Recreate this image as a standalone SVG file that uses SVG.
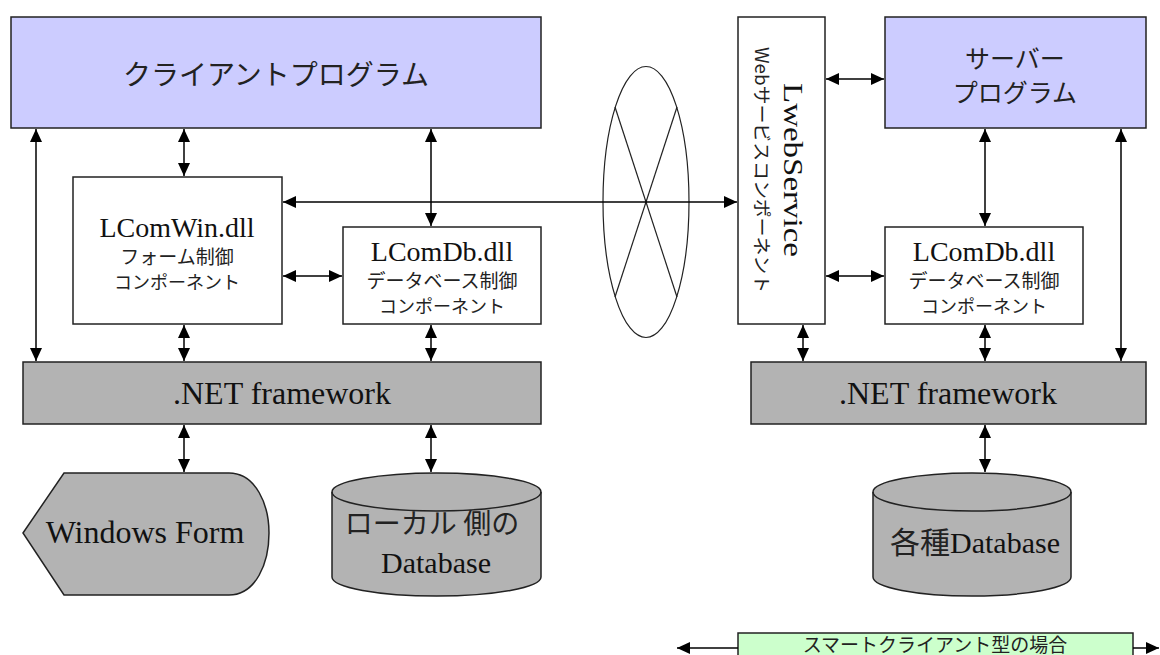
<svg xmlns="http://www.w3.org/2000/svg" width="1160" height="655" viewBox="0 0 1160 655">
<style>
.box{stroke:#222;stroke-width:1.5}
.prog{fill:#ccccff}
.wht{fill:#ffffff}
.gry{fill:#b3b3b3}
.grn{fill:#ccffcc}
.ser{font-family:"Liberation Serif","Times New Roman",serif;fill:#111}
.jp{font-family:"Noto Sans CJK JP","Noto Sans",sans-serif;fill:#222}
.con{stroke:#000;stroke-width:1.5;fill:none;marker-start:url(#ah);marker-end:url(#ah)}
.one{stroke:#000;stroke-width:1.5;fill:none;marker-end:url(#ah)}
</style>
<defs>
<marker id="ah" markerUnits="userSpaceOnUse" markerWidth="14" markerHeight="13" refX="13" refY="6" orient="auto-start-reverse">
<path d="M0,0 L13,6 L0,12 z" fill="#000"/>
</marker>
</defs>
<rect width="1160" height="655" fill="#ffffff"/>

<g id="client">
<rect class="box prog" x="11" y="17" width="530" height="111"/>
<text class="jp" x="276" y="85" font-size="28" text-anchor="middle">クライアントプログラム</text>
</g>

<g id="server">
<rect class="box prog" x="885" y="17" width="261" height="111"/>
<text class="jp" x="1015" y="68" font-size="25" text-anchor="middle">サーバー</text>
<text class="jp" x="1015" y="102" font-size="25" text-anchor="middle">プログラム</text>
</g>

<g id="lcomwin">
<rect class="box wht" x="73" y="177" width="209" height="147"/>
<text class="ser" x="177" y="237" font-size="28" text-anchor="middle">LComWin.dll</text>
<text class="jp" x="177" y="264" font-size="19" text-anchor="middle">フォーム制御</text>
<text class="jp" x="177" y="289" font-size="18" text-anchor="middle">コンポーネント</text>
</g>

<g id="lcomdb-left">
<rect class="box wht" x="343" y="227" width="198" height="97"/>
<text class="ser" x="442" y="261" font-size="28" text-anchor="middle">LComDb.dll</text>
<text class="jp" x="442" y="288" font-size="19" text-anchor="middle">データベース制御</text>
<text class="jp" x="442" y="313" font-size="18" text-anchor="middle">コンポーネント</text>
</g>

<g id="lwebservice">
<rect class="box wht" x="738" y="17" width="87" height="307"/>
<text class="ser" transform="translate(784,83) rotate(90)" x="0" y="0" font-size="28" textLength="174" lengthAdjust="spacingAndGlyphs">LwebService</text>
<text class="jp" transform="translate(755,47) rotate(90)" x="0" y="0" font-size="18" textLength="246" lengthAdjust="spacingAndGlyphs">Webサービスコンポーネント</text>
</g>

<g id="lcomdb-right">
<rect class="box wht" x="885" y="227" width="198" height="97"/>
<text class="ser" x="984" y="261" font-size="28" text-anchor="middle">LComDb.dll</text>
<text class="jp" x="984" y="288" font-size="19" text-anchor="middle">データベース制御</text>
<text class="jp" x="984" y="313" font-size="18" text-anchor="middle">コンポーネント</text>
</g>

<g id="net-left">
<rect class="box gry" x="23" y="362" width="518" height="62"/>
<text class="ser" x="282" y="404" font-size="32" text-anchor="middle">.NET framework</text>
</g>

<g id="net-right">
<rect class="box gry" x="751" y="362" width="395" height="62"/>
<text class="ser" x="948" y="404" font-size="32" text-anchor="middle">.NET framework</text>
</g>

<g id="windows-form">
<path class="box gry" d="M23,533 L64,473 L229,473 C256,473 269,505 269,533 C269,563 256,595 229,595 L64,595 Z"/>
<text class="ser" x="145" y="543" font-size="32" text-anchor="middle">Windows Form</text>
</g>

<g id="db-local">
<path class="box gry" d="M332,492 A104.5,19 0 0 1 541,492 L541,577 A104.5,19 0 0 1 332,577 Z"/>
<path class="box" fill="none" d="M332,492 A104.5,19 0 0 0 541,492"/>
<text class="jp" x="432" y="534" font-size="28" text-anchor="middle" fill="#333">ローカル 側の</text>
<text class="ser" x="436" y="573" font-size="30" text-anchor="middle">Database</text>
</g>

<g id="db-server">
<path class="box gry" d="M873,492 A99,19 0 0 1 1071,492 L1071,577 A99,19 0 0 1 873,577 Z"/>
<path class="box" fill="none" d="M873,492 A99,19 0 0 0 1071,492"/>
<text x="975" y="553" font-size="30" text-anchor="middle"><tspan class="jp" fill="#222">各種</tspan><tspan class="ser">Database</tspan></text>
</g>

<g id="network">
<ellipse cx="646" cy="202" rx="43" ry="135.5" fill="none" stroke="#222" stroke-width="1.2"/>
<line x1="615" y1="107" x2="677" y2="297" stroke="#222" stroke-width="1.2"/>
<line x1="677" y1="107" x2="615" y2="297" stroke="#222" stroke-width="1.2"/>
</g>

<g id="legend">
<rect class="box grn" x="738" y="633" width="395" height="30"/>
<text class="jp" x="935" y="652" font-size="19" text-anchor="middle">スマートクライアント型の場合</text>
</g>

<g id="connectors">
<line class="con" x1="36" y1="129" x2="36" y2="361"/>
<line class="con" x1="184" y1="129" x2="184" y2="176"/>
<line class="con" x1="431" y1="129" x2="431" y2="226"/>
<line class="con" x1="283" y1="202" x2="737" y2="202"/>
<line class="con" x1="283" y1="276" x2="342" y2="276"/>
<line class="con" x1="184" y1="325" x2="184" y2="361"/>
<line class="con" x1="431" y1="325" x2="431" y2="361"/>
<line class="con" x1="184" y1="425" x2="184" y2="472"/>
<line class="con" x1="431" y1="425" x2="431" y2="472"/>
<line class="con" x1="826" y1="79" x2="884" y2="79"/>
<line class="con" x1="826" y1="276" x2="884" y2="276"/>
<line class="con" x1="985" y1="129" x2="985" y2="226"/>
<line class="con" x1="803" y1="325" x2="803" y2="361"/>
<line class="con" x1="985" y1="325" x2="985" y2="361"/>
<line class="con" x1="1121" y1="129" x2="1121" y2="361"/>
<line class="con" x1="985" y1="425" x2="985" y2="472"/>
<line class="one" x1="738" y1="648" x2="677" y2="648"/>
<line class="one" x1="1133" y1="648" x2="1159" y2="648"/>
</g>
</svg>
